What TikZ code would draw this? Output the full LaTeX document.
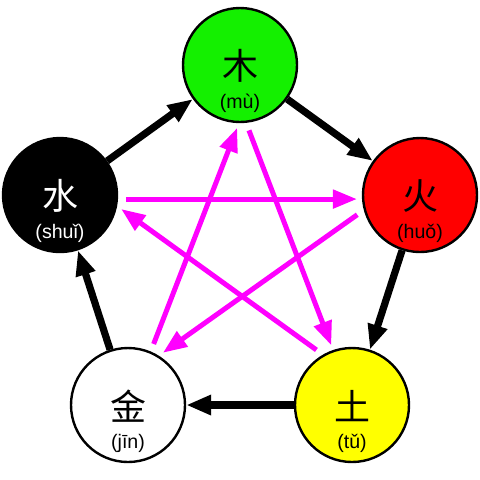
\documentclass[tikz,border=0pt]{standalone}
\usepackage{fontspec}
\setmainfont{Liberation Sans}
\newfontfamily\zh{Noto Sans CJK SC}
\usetikzlibrary{arrows.meta}

\definecolor{woodgreen}{RGB}{20,240,0}
\definecolor{firered}{RGB}{255,0,0}
\definecolor{earthyellow}{RGB}{255,255,0}
\definecolor{kepink}{RGB}{255,0,255}

\def\px{0.5pt}

\tikzset{
  phase/.style={circle, draw=black, line width=1.2pt, minimum size=57pt, inner sep=0pt},
  zi/.style={font=\zh\fontsize{18}{18}\selectfont},
  py/.style={font=\fontsize{9.8}{10}\selectfont},
  sheng/.style={line width=3.6pt, -{Triangle[length=12.5pt,width=9.5pt]}},
  ke/.style={kepink, line width=2.5pt, -{Triangle[length=12pt,width=9pt]}, shorten <=4pt, shorten >=2.5pt},
}

\begin{document}
\begin{tikzpicture}[x=\px, y=-\px]
      \useasboundingbox (0,0) rectangle (480,479);
      \node[phase, fill=woodgreen] (wood) at (240,65) {};
      \node[phase, fill=firered] (fire) at (420,195) {};
      \node[phase, fill=earthyellow] (earth) at (352,405) {};
      \node[phase, fill=white] (metal) at (128,405) {};
      \node[phase, fill=black] (water) at (60,195) {};
      \node[zi] (wood-zi) at (240,66) {木};
      \node[py] (wood-py) at (240,103) {(mù)};
      \node[zi] (fire-zi) at (420,196) {火};
      \node[py] (fire-py) at (420,233) {(huǒ)};
      \node[zi] (earth-zi) at (352,406) {土};
      \node[py] (earth-py) at (352,443) {(tǔ)};
      \node[zi] (metal-zi) at (128,406) {金};
      \node[py] (metal-py) at (128,443) {(jīn)};
      \node[zi, white] (water-zi) at (60,196) {水};
      \node[py, white] (water-py) at (60,233) {(shuǐ)};
      \draw[sheng] (water) -- (wood);
      \draw[sheng] (wood) -- (fire);
      \draw[sheng] (fire) -- (earth);
      \draw[sheng] (earth) -- (metal);
      \draw[sheng] (metal) -- (water);
      \draw[ke] (water.-4) -- (fire.184);
      \draw[ke] (fire.195) -- (metal.58);
      \draw[ke] (metal.67) -- (wood.269);
      \draw[ke] (wood.-84) -- (earth.109);
      \draw[ke] (earth.120) -- (water.-11);
\end{tikzpicture}
\end{document}
